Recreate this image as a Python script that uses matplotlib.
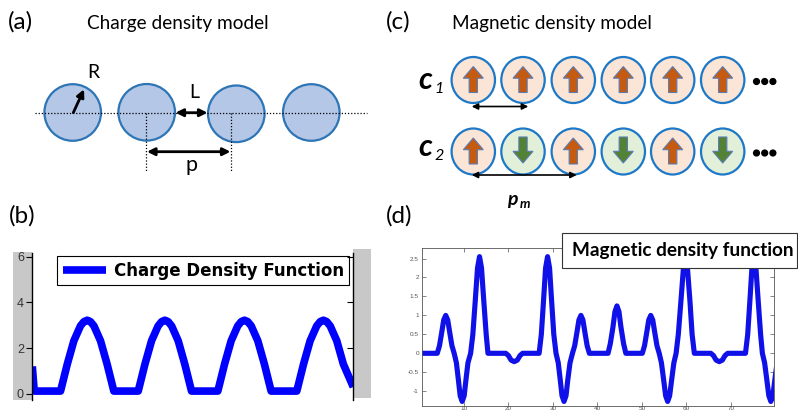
import matplotlib
matplotlib.use('Agg')
import matplotlib.pyplot as plt
from matplotlib.patches import Ellipse, Rectangle, FancyArrow, Circle

W, H = 798, 413

# ---------------- data ----------------
# (b) charge density function (x in arbitrary units 0..100)
charge_x = [0, 0.6,
            8.8, 10.9, 12.95, 15.0, 16.1, 17.1, 18.1, 19.2, 21.25, 23.3, 25.4,
            33.0, 35.1, 37.15, 39.2, 40.3, 41.3, 42.3, 43.4, 45.45, 47.5, 49.6,
            57.8, 59.9, 61.95, 64.0, 65.1, 66.1, 67.1, 68.2, 70.25, 72.3, 74.4,
            82.4, 84.5, 86.55, 88.6, 89.7, 90.7, 91.7, 92.8, 94.85, 96.9, 100]
charge_y = [1.2, 0.12,
            0.12, 1.30, 2.32, 2.97, 3.16, 3.22, 3.16, 2.97, 2.32, 1.30, 0.12,
            0.12, 1.30, 2.32, 2.97, 3.16, 3.22, 3.16, 2.97, 2.32, 1.30, 0.12,
            0.12, 1.30, 2.32, 2.97, 3.16, 3.22, 3.16, 2.97, 2.32, 1.30, 0.12,
            0.12, 1.30, 2.32, 2.97, 3.16, 3.22, 3.16, 2.97, 2.32, 1.30, 0.3]
charge_yticks = [0, 2, 4, 6]

# (d) magnetic density function
mag_x = [0.5, 4.0,
         4.5, 5.0, 5.45, 5.9, 6.35, 6.8, 7.3, 7.8,
         8.3, 8.75, 9.15, 9.6, 10.05, 10.45, 10.9, 11.5,
         12.0, 12.55, 13.05, 13.5, 13.95, 14.45, 15.0, 15.4,
         19.4, 20.0, 20.6, 21.3, 22.0, 22.6, 23.2,
         26.9, 27.4, 27.9, 28.35, 28.8, 29.25, 29.7, 30.2, 30.7,
         31.2, 31.65, 32.05, 32.5, 32.95, 33.35, 33.85, 34.4,
         34.9, 35.4, 35.85, 36.3, 36.75, 37.2, 37.7, 38.2,
         42.4, 42.9, 43.5, 43.95, 44.4, 44.85, 45.3, 45.9, 46.4,
         50.1, 50.6, 51.1, 51.55, 52.0, 52.45, 52.9, 53.4, 53.9,
         54.4, 54.9, 55.35, 55.8, 56.25, 56.7, 57.2, 57.7,
         58.2, 58.8, 59.35, 59.8, 60.25, 60.8, 61.3, 61.8,
         65.5, 66.1, 66.7, 67.4, 68.1, 68.7, 69.3,
         73.3, 73.8, 74.3, 74.75, 75.2, 75.65, 76.15, 76.7, 77.1,
         77.6, 78.1, 78.55, 79.0, 79.45, 79.9, 80.4]
mag_y = [0, 0,
         0.2, 0.55, 0.88, 1.0, 0.88, 0.55, 0.2, 0,
         -0.25, -0.7, -1.12, -1.27, -1.12, -0.7, -0.25, 0,
         0.5, 1.4, 2.25, 2.55, 2.25, 1.4, 0.5, 0,
         0, -0.06, -0.18, -0.22, -0.18, -0.06, 0,
         0, 0.5, 1.4, 2.25, 2.55, 2.25, 1.4, 0.5, 0,
         -0.25, -0.7, -1.12, -1.27, -1.12, -0.7, -0.25, 0,
         0.2, 0.55, 0.88, 1.0, 0.88, 0.55, 0.2, 0,
         0, 0.25, 0.69, 1.1, 1.25, 1.1, 0.69, 0.25, 0,
         0, 0.2, 0.55, 0.88, 1.0, 0.88, 0.55, 0.2, 0,
         -0.25, -0.7, -1.12, -1.27, -1.12, -0.7, -0.25, 0,
         0.5, 1.4, 2.25, 2.55, 2.25, 1.4, 0.5, 0,
         0, -0.06, -0.18, -0.22, -0.18, -0.06, 0,
         0, 0.5, 1.4, 2.25, 2.55, 2.25, 1.4, 0.5, 0,
         -0.25, -0.7, -1.12, -1.27, -1.12, -0.7, -0.25]
mag_yticks = [-1, -0.5, 0, 0.5, 1, 1.5, 2, 2.5]
mag_yticklabels = ['-1', '-0.5', '0', '0.5', '1', '1.5', '2', '2.5']
mag_xticks = [10, 20, 30, 40, 50, 60, 70]

# (c) spin configurations
c1_spins = [1, 1, 1, 1, 1, 1]
c2_spins = [1, -1, 1, -1, 1, -1]

# ---------------- figure ----------------
LATO = ['Lato', 'DejaVu Sans']
ARIAL = ['Liberation Sans', 'DejaVu Sans']

fig = plt.figure(figsize=(W / 100, H / 100), dpi=100)
dax = fig.add_axes([0, 0, 1, 1], zorder=0)
dax.set_xlim(0, W)
dax.set_ylim(H, 0)
dax.axis('off')

# panel labels / titles
dax.text(8, 22, '(a)', fontsize=17.5, family=LATO, va='center', ha='left')
dax.text(86.7, 29.3, 'Charge density model', fontsize=13.7, family=LATO, va='baseline')
dax.text(386, 22, '(c)', fontsize=17.5, family=LATO, va='center', ha='left')
dax.text(451.7, 29.3, 'Magnetic density model', fontsize=13.7, family=LATO, va='baseline')
dax.text(9, 216, '(b)', fontsize=17.5, family=LATO, va='center', ha='left')
dax.text(386, 216, '(d)', fontsize=17.5, family=LATO, va='center', ha='left')

# ---- panel (a) diagram ----
a_cx = [72.7, 146.7, 236.3, 311.3]
a_cy = [112.5, 112.3, 113.8, 112.5]
a_r = 28.3
dax.plot([35, 367], [113.3, 113.3], color='k', lw=0.9, linestyle=(0, (1, 1.5)), zorder=3)
for x, y in zip(a_cx, a_cy):
    dax.add_patch(Ellipse((x, y), 2 * a_r, 2 * a_r, fc='#B4C7E7', ec='#2E75B6', lw=1.6, zorder=2))
dax.plot([145.7, 145.7], [113, 171.7], color='k', lw=0.9, linestyle=(0, (1, 1.5)), zorder=3)
dax.plot([231, 231], [113, 171.7], color='k', lw=0.9, linestyle=(0, (1, 1.5)), zorder=3)
ap = dict(color='k', lw=2.0, shrinkA=0, shrinkB=0, mutation_scale=11)
dax.annotate('', xy=(84, 89.3), xytext=(73.3, 112.7), arrowprops=dict(arrowstyle='-|>', **ap), zorder=4)
dax.annotate('', xy=(207.5, 112.7), xytext=(175.5, 112.7), arrowprops=dict(arrowstyle='<|-|>', **ap), zorder=4)
dax.annotate('', xy=(230.5, 151.7), xytext=(147, 151.7), arrowprops=dict(arrowstyle='<|-|>', **ap), zorder=4)
dax.text(93, 72, 'R', fontsize=14, family=LATO, ha='center', va='center')
dax.text(194, 92, 'L', fontsize=14, family=LATO, ha='center', va='center')
dax.text(191.7, 171, 'p', fontsize=15.5, family=LATO, ha='center', va='baseline')

# ---- panel (c) diagram ----
c_cx = [473.3, 523, 573.3, 623.3, 672.7, 722.7]
rows = [(80, c1_spins), (151.5, c2_spins)]
for cy, spins in rows:
    for x, s in zip(c_cx, spins):
        fc = '#FBE5D6' if s > 0 else '#E2F0D9'
        dax.add_patch(Ellipse((x, cy), 43.4, 46, fc=fc, ec='#1E78C8', lw=1.6, zorder=2))
        if s > 0:
            arr = FancyArrow(x, cy + 12.5, 0, -26, width=8.3, head_width=20, head_length=11.7,
                             length_includes_head=True, fc='#C55A11', ec='#5B7DB5', lw=0.8, zorder=3)
        else:
            arr = FancyArrow(x, cy - 14.5, 0, 26, width=8.3, head_width=20, head_length=11.7,
                             length_includes_head=True, fc='#548235', ec='#5B7DB5', lw=0.8, zorder=3)
        dax.add_patch(arr)
    for i in range(3):
        dax.add_patch(Circle((756.5 + i * 8.2, cy + 1.5), 2.9, color='k', zorder=3))

tp = dict(color='k', lw=1.2, shrinkA=0, shrinkB=0, mutation_scale=9)
dax.annotate('', xy=(528.3, 106.5), xytext=(471.7, 106.5), arrowprops=dict(arrowstyle='<|-|>', **tp))
dax.annotate('', xy=(576.7, 175), xytext=(471.7, 175), arrowprops=dict(arrowstyle='<|-|>', **tp))

dax.text(418.3, 89.3, 'c', fontsize=22, family=LATO, style='italic', weight='bold', va='baseline')
dax.text(434.5, 93.3, '1', fontsize=11.6, family=LATO, style='italic', va='baseline')
dax.text(418.3, 156, 'c', fontsize=22, family=LATO, style='italic', weight='bold', va='baseline')
dax.text(434.5, 160, '2', fontsize=11.6, family=LATO, style='italic', va='baseline')
dax.text(506.7, 204.5, 'p', fontsize=14, family=LATO, style='italic', weight='bold', va='baseline')
dax.text(520, 208.3, 'm', fontsize=9.5, family=LATO, style='italic', weight='bold', va='baseline')

# gray figure background strips of panel (b)
dax.add_patch(Rectangle((12.7, 251.7), 19.6, 148.3, color='#C8C8C8', lw=0))
dax.add_patch(Rectangle((353.3, 249.3), 17.4, 149, color='#C8C8C8', lw=0))

# ---------------- panel (b) plot ----------------
axb = fig.add_axes([32.3 / W, 1 - 400 / H, 321 / W, 147 / H], zorder=1)
axb.plot(charge_x, charge_y, color='#0000FF', lw=5.5, label='Charge Density Function',
         solid_capstyle='butt')
axb.set_xlim(0, 100)
axb.set_ylim(-0.27, 6.16)
axb.set_xticks([])
axb.set_yticks(charge_yticks)
axb.set_yticklabels([str(v) for v in charge_yticks], family=ARIAL, fontsize=9, color='#333333')
axb.tick_params(axis='y', direction='out', length=4, width=0.8, pad=2)
for sp in ['top', 'bottom']:
    axb.spines[sp].set_visible(False)
for sp in ['left', 'right']:
    axb.spines[sp].set_color('k')
    axb.spines[sp].set_linewidth(1.0)
axr = axb.twinx()
axr.set_ylim(-0.27, 6.16)
axr.set_yticks(charge_yticks[1:])
axr.tick_params(axis='y', direction='in', length=4, width=0.8, labelright=False)
for sp in axr.spines.values():
    sp.set_visible(False)
leg = axb.legend(loc='upper right', bbox_to_anchor=(0.9875, 0.978),
                 prop=dict(family=['DejaVu Sans'], weight='bold', size=12),
                 frameon=True, fancybox=False, edgecolor='k', framealpha=1,
                 handlelength=2.6, borderpad=0.33, borderaxespad=0, handletextpad=0.45)
leg.get_frame().set_linewidth(0.8)

# ---------------- panel (d) plot ----------------
axd = fig.add_axes([421.7 / W, 1 - 405.5 / H, 351.8 / W, 157.2 / H], zorder=1)
axd.plot(mag_x, mag_y, color='#1010E8', lw=3.7)
axd.set_xlim(0.5, 79.6)
axd.set_ylim(-1.377, 2.77)
axd.set_yticks(mag_yticks)
axd.set_yticklabels(mag_yticklabels)
axd.set_xticks(mag_xticks)
axd.set_xticklabels([str(v) for v in mag_xticks])
axd.tick_params(direction='in', length=3, width=0.5, labelsize=4.6, labelcolor='#555555',
                color='#555555', top=True, right=True, pad=2)
axd.tick_params(axis='x', pad=0.6)
for lab in axd.get_xticklabels() + axd.get_yticklabels():
    lab.set_family(ARIAL)
for sp in axd.spines.values():
    sp.set_color('#555555')
    sp.set_linewidth(0.6)

# label box over panel (d)
fig.add_artist(Rectangle((562, 233.3), 234.7, 35, transform=dax.transData,
                         fc='white', ec='#333333', lw=0.8, zorder=10))
fig.text(571.7 / W, 1 - 250.5 / H, 'Magnetic density function', fontsize=13.7, family=LATO,
         weight='bold', va='center', ha='left', zorder=11)

fig.savefig('out.png', dpi=100)
